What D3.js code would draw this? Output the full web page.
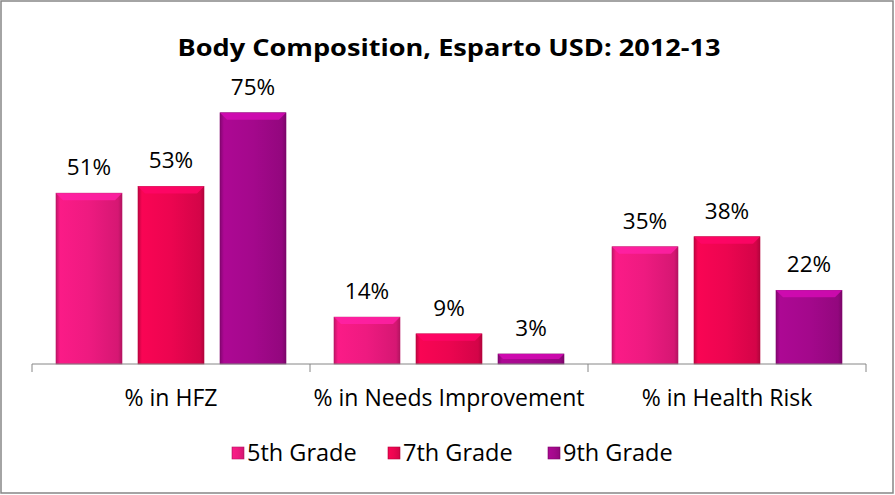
<!DOCTYPE html>
<html><head><meta charset="utf-8">
<script src="https://cdn.jsdelivr.net/npm/d3@7"></script>
<style>body{margin:0;background:#fff}svg{display:block}</style>
</head><body><div id="chart"></div>
<script>
const categories = ["% in HFZ", "% in Needs Improvement", "% in Health Risk"];
const seriesNames = ["5th Grade", "7th Grade", "9th Grade"];
const grade5 = [0.51, 0.14, 0.35];
const grade7 = [0.53, 0.09, 0.38];
const grade9 = [0.75, 0.03, 0.22];
const labels5 = ["51%", "14%", "35%"];
const labels7 = ["53%", "9%", "38%"];
const labels9 = ["75%", "3%", "22%"];
const title = "Body Composition, Esparto USD: 2012-13";

const W = 895, H = 495;
const colors = ["#EE1A80", "#EC0550", "#A4088C"];
const series = [
  {name: seriesNames[0], values: grade5, labels: labels5},
  {name: seriesNames[1], values: grade7, labels: labels7},
  {name: seriesNames[2], values: grade9, labels: labels9}
];

const svg = d3.select("#chart").append("svg").attr("width", W).attr("height", H);
svg.append("rect").attr("x", 1).attr("y", 1).attr("width", W - 3).attr("height", H - 3)
  .attr("fill", "#fff").attr("stroke", "#868686").attr("stroke-width", 1.5);

const defs = svg.append("defs");
colors.forEach((c, i) => {
  const base = d3.color(c);
  const g = defs.append("linearGradient").attr("id", "g" + i).attr("x1", 0).attr("x2", 1).attr("y1", 0).attr("y2", 0);
  g.append("stop").attr("offset", "0%").attr("stop-color", base.darker(0.6));
  g.append("stop").attr("offset", "6%").attr("stop-color", base.brighter(0.15));
  g.append("stop").attr("offset", "50%").attr("stop-color", base);
  g.append("stop").attr("offset", "94%").attr("stop-color", base.darker(0.3));
  g.append("stop").attr("offset", "100%").attr("stop-color", base.darker(0.8));
});

const x0 = d3.scaleBand().domain(categories).range([32, 866]).paddingInner(0).paddingOuter(0);
const x1 = d3.scaleBand().domain(seriesNames).range([24, x0.bandwidth() - 24]).paddingInner(16 / 82).paddingOuter(0);
const y = d3.scaleLinear().domain([0, 0.8]).range([364, 96]);

const font = "'Open Sans', sans-serif";

svg.append("text").attr("x", 449).attr("y", 56).attr("text-anchor", "middle")
  .attr("font-family", font).attr("font-weight", "bold").attr("font-size", 24).attr("fill", "#000")
  .attr("textLength", 543).attr("lengthAdjust", "spacingAndGlyphs")
  .text(title);

series.forEach((s, si) => {
  const g = svg.append("g");
  categories.forEach((cat, ci) => {
    const bx = x0(cat) + x1(s.name);
    const bw = x1.bandwidth();
    const by = y(s.values[ci]);
    const bh = y(0) - by;
    const base = d3.color(colors[si]);
    g.append("rect").attr("x", bx).attr("y", by).attr("width", bw).attr("height", bh)
      .attr("fill", `url(#g${si})`).attr("stroke", base.darker(0.7)).attr("stroke-width", 0.6);
    const bev = Math.min(7, bh / 2);
    g.append("path")
      .attr("d", `M${bx},${by} L${bx + bw},${by} L${bx + bw - bev},${by + bev} L${bx + bev},${by + bev} Z`)
      .attr("fill", base.brighter(0.7)).attr("opacity", 0.85);
    g.append("text").attr("x", bx + bw / 2).attr("y", by - 18).attr("text-anchor", "middle")
      .attr("font-family", font).attr("font-size", 22.5).attr("fill", "#000").text(s.labels[ci]);
  });
});

svg.append("line").attr("x1", 32).attr("x2", 866).attr("y1", 364).attr("y2", 364).attr("stroke", "#868686").attr("stroke-width", 1);
const tickXs = categories.map(c => x0(c)).concat([x0.range()[1]]);
svg.selectAll(".tk").data(tickXs).enter().append("line")
  .attr("x1", d => d).attr("x2", d => d).attr("y1", 364).attr("y2", 372)
  .attr("stroke", "#868686");
svg.selectAll(".cl").data(categories).enter().append("text")
  .attr("x", d => x0(d) + x0.bandwidth() / 2).attr("y", 406).attr("text-anchor", "middle")
  .attr("font-family", font).attr("font-size", 23).attr("fill", "#000").text(d => d);

const legendX = [232, 388, 548];
series.forEach((s, si) => {
  const base = d3.color(colors[si]);
  svg.append("rect").attr("x", legendX[si]).attr("y", 447).attr("width", 12).attr("height", 12)
    .attr("fill", `url(#g${si})`).attr("stroke", base.darker(0.7)).attr("stroke-width", 0.6);
  svg.append("text").attr("x", legendX[si] + 15).attr("y", 461)
    .attr("font-family", font).attr("font-size", 23.5).attr("fill", "#000").text(s.name);
});
</script></body></html>
